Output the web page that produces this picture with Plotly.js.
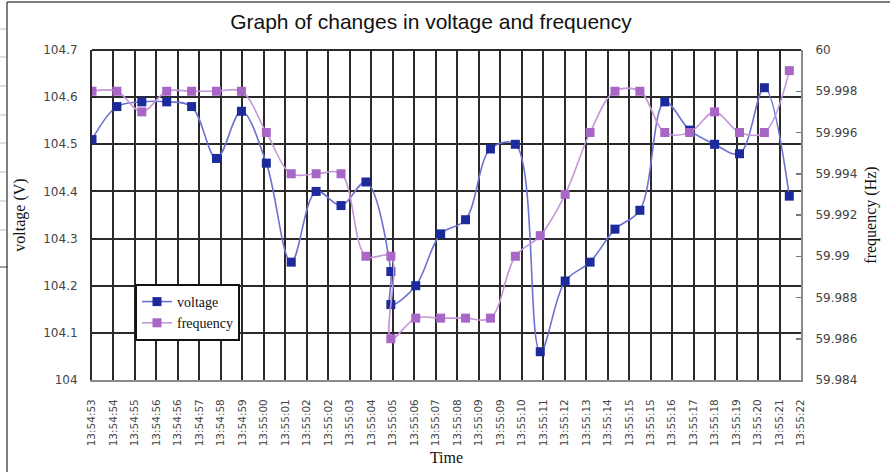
<!DOCTYPE html>
<html>
<head>
<meta charset="utf-8">
<script src="https://cdn.plot.ly/plotly-3.0.1.min.js"></script>
<style>html,body{margin:0;padding:0;background:#fff;}#chart{width:890px;height:472px;}</style>
</head>
<body>
<div id="chart"></div>
<script>
// Tick labels of the time axis (as printed, duplicates included)
const timeLabels = ["13:54:53","13:54:54","13:54:55","13:54:56","13:54:56","13:54:57","13:54:58","13:54:59",
  "13:55:00","13:55:01","13:55:02","13:55:02","13:55:03","13:55:04","13:55:05","13:55:06","13:55:07",
  "13:55:08","13:55:09","13:55:09","13:55:10","13:55:11","13:55:12","13:55:13","13:55:14","13:55:15",
  "13:55:15","13:55:16","13:55:17","13:55:18","13:55:19","13:55:20","13:55:21","13:55:22"];
const labelIndex = timeLabels.map((_, i) => i);

// Sample positions of the measured points (two readings at sample 12)
const sampleIndex = [0,1,2,3,4,5,6,7,8,9,10,11,12,12,13,14,15,16,17,18,19,20,21,22,23,24,25,26,27,28];

const voltage = [104.51,104.58,104.59,104.59,104.58,104.47,104.57,104.46,104.25,104.40,104.37,104.42,
  104.23,104.16,104.20,104.31,104.34,104.49,104.50,104.06,104.21,104.25,104.32,104.36,104.59,104.53,
  104.50,104.48,104.62,104.39];

const frequency = [59.998,59.998,59.997,59.998,59.998,59.998,59.998,59.996,59.994,59.994,59.994,59.990,
  59.990,59.986,59.987,59.987,59.987,59.987,59.990,59.991,59.993,59.996,59.998,59.998,59.996,59.996,
  59.997,59.996,59.996,59.999];

const traces = [
  {
    // carrier for the time-label axis (no visible marks)
    x: labelIndex, y: labelIndex.map(() => null), xaxis: 'x', yaxis: 'y',
    type: 'scatter', mode: 'markers', showlegend: false, hoverinfo: 'skip',
    marker: {opacity: 0}
  },
  {
    x: sampleIndex, y: voltage, name: 'voltage', type: 'scatter', mode: 'lines+markers',
    xaxis: 'x2', yaxis: 'y',
    line: {color: '#6d72d2', width: 1.6, shape: 'spline', smoothing: 1},
    marker: {symbol: 'square', size: 9, color: '#1c2a9c'}
  },
  {
    x: sampleIndex, y: frequency, name: 'frequency', type: 'scatter', mode: 'lines+markers',
    xaxis: 'x2', yaxis: 'y2',
    line: {color: '#c596da', width: 1.6, shape: 'spline', smoothing: 1},
    marker: {symbol: 'square', size: 9, color: '#a866c6'}
  }
];

const tickFont = {family: 'DejaVu Sans', size: 12, color: '#444'};

// page-edge decoration (pixel positions of faint ruler marks at the left edge)
const px2x = p => (p - 92) / 709;
const px2y = p => (380 - p) / 330;
const edgeMarks = [29, 57, 86, 115, 143, 172, 201, 230];
const shapes = [
  {type: 'line', xref: 'paper', yref: 'paper', x0: 0, x1: 1, y0: 1, y1: 1, line: {color: '#2a2a2a', width: 2}},
  {type: 'line', xref: 'paper', yref: 'paper', x0: px2x(7), x1: px2x(890), y0: px2y(2), y1: px2y(2), line: {color: '#555', width: 1.5}},
  {type: 'line', xref: 'paper', yref: 'paper', x0: px2x(7), x1: px2x(7), y0: px2y(2), y1: px2y(472), line: {color: '#555', width: 1.5}},
  {type: 'line', xref: 'paper', yref: 'paper', x0: px2x(0), x1: px2x(8), y0: px2y(267), y1: px2y(267), line: {color: '#444', width: 1}}
];
edgeMarks.forEach(p => shapes.push({type: 'line', xref: 'paper', yref: 'paper',
  x0: px2x(0), x1: px2x(6), y0: px2y(p), y1: px2y(p), line: {color: '#bbb', width: 1}}));

const layout = {
  width: 890, height: 472,
  margin: {l: 92, r: 89, t: 50, b: 92, pad: 0},
  paper_bgcolor: '#fff', plot_bgcolor: '#fff',
  showlegend: true,
  title: {
    text: 'Graph of changes in voltage and frequency',
    font: {family: 'Liberation Sans', size: 21, color: '#111'},
    x: 431/890, xref: 'container', xanchor: 'center',
    y: 1 - 22/472, yref: 'container', yanchor: 'middle'
  },
  xaxis: {
    range: [0, 33], tickmode: 'array', tickvals: labelIndex, ticktext: timeLabels,
    tickangle: -90, tickfont: {family: 'DejaVu Sans', size: 10.5, color: '#444'},
    showgrid: true, gridcolor: '#2a2a2a', gridwidth: 2,
    showline: true, linecolor: '#8a8a8a', linewidth: 2,
    ticks: '', ticklabelstandoff: 13, zeroline: false, fixedrange: true,
    title: {text: 'Time', font: {family: 'Liberation Serif', size: 16, color: '#111'}, standoff: 6}
  },
  xaxis2: {
    overlaying: 'x', range: [0, 28.47], visible: false, fixedrange: true
  },
  yaxis: {
    range: [104, 104.7], tick0: 104, dtick: 0.1,
    tickfont: tickFont, showgrid: true, gridcolor: '#2a2a2a', gridwidth: 2,
    showline: true, linecolor: '#2a2a2a', linewidth: 2,
    ticks: '', ticklabelstandoff: 10, zeroline: false, fixedrange: true,
    title: {text: 'voltage (V)', font: {family: 'Liberation Serif', size: 16, color: '#111'}, standoff: 14}
  },
  yaxis2: {
    overlaying: 'y', side: 'right', range: [59.984, 60], tick0: 59.984, dtick: 0.002,
    tickfont: tickFont, showgrid: false,
    showline: true, linecolor: '#8a8a8a', linewidth: 2,
    ticks: 'inside', ticklen: 5, tickcolor: '#777', tickwidth: 1.5,
    ticklabelstandoff: 10, zeroline: false, fixedrange: true,
    title: {text: 'frequency (Hz)', font: {family: 'Liberation Serif', size: 16, color: '#111'}, standoff: 8}
  },
  legend: {
    x: px2x(135), y: px2y(284), xanchor: 'left', yanchor: 'top',
    bgcolor: '#fff', bordercolor: '#111', borderwidth: 2,
    font: {family: 'Liberation Serif', size: 14, color: '#111'},
    tracegroupgap: 4
  },
  shapes: shapes
};

Plotly.newPlot('chart', traces, layout, {displayModeBar: false, staticPlot: true});
</script>
</body>
</html>
